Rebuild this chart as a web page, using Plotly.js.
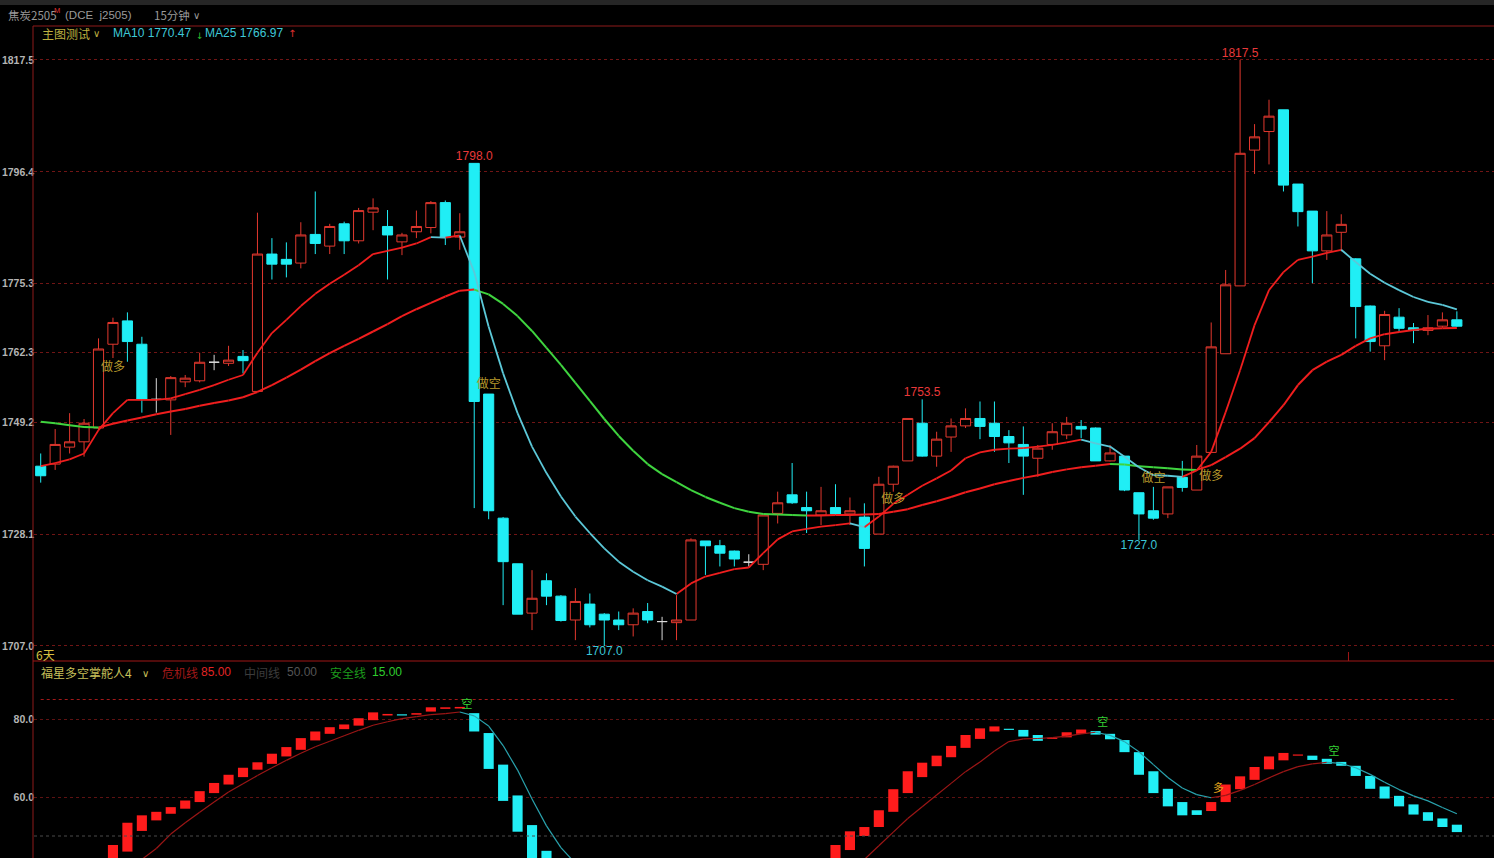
<!DOCTYPE html>
<html>
<head>
<meta charset="utf-8">
<script src="https://cdn.plot.ly/plotly-3.0.1.min.js"></script>
<style>
  html, body { margin: 0; padding: 0; background: #000; overflow: hidden; }
  #chart { width: 1494px; height: 858px; }
</style>
</head>
<body>
<div id="chart"></div>
<script>
// 焦炭2505 15分钟 K线 (99 根)
const opens = [
  1740.9,1741.3,1744.5,1745.5,1748.1,1763.9,1768.3,1763.9,1753.5,1753.4,
  1756.8,1757.0,1760.5,1760.3,1761.6,1755.0,1780.9,1779.9,1779.2,1784.6,
  1782.4,1786.6,1783.4,1788.8,1786.1,1783.2,1785.1,1785.9,1790.6,1784.1,
  1798.0,1754.5,1731.1,1722.5,1713.2,1719.3,1716.4,1711.9,1714.9,1713.0,
  1711.9,1711.0,1713.5,1711.6,1711.4,1711.9,1726.8,1725.9,1724.9,1722.8,
  1722.4,1732.0,1735.5,1733.1,1731.7,1733.1,1731.9,1731.3,1728.1,1737.5,
  1741.9,1749.0,1742.8,1746.4,1748.5,1749.9,1749.0,1746.5,1745.0,1742.4,
  1745.0,1746.8,1748.4,1748.1,1741.9,1742.8,1735.9,1732.5,1731.9,1738.8,
  1736.4,1743.5,1762.1,1774.9,1800.5,1804.0,1808.1,1794.1,1789.0,1781.5,
  1785.0,1780.0,1771.1,1763.6,1769.0,1767.0,1766.5,1767.3,1768.5
];
const highs = [
  1743.3,1747.9,1750.9,1749.8,1765.0,1768.9,1769.9,1765.3,1757.5,1757.9,
  1758.1,1762.3,1761.9,1763.6,1762.8,1788.7,1783.9,1783.1,1786.9,1792.7,
  1786.6,1787.0,1789.6,1791.4,1789.2,1784.9,1789.1,1790.9,1791.0,1788.6,
  1798.0,1754.5,1731.3,1722.5,1721.3,1720.7,1716.6,1717.9,1716.9,1713.2,
  1713.5,1714.1,1715.1,1712.5,1716.6,1727.3,1726.8,1727.0,1725.0,1724.3,
  1731.7,1736.1,1741.5,1736.1,1737.0,1737.5,1735.0,1733.9,1738.9,1741.0,
  1749.9,1753.5,1747.4,1749.9,1751.8,1753.1,1753.1,1747.7,1748.4,1744.9,
  1749.0,1750.2,1749.6,1748.2,1744.9,1742.8,1735.9,1737.0,1737.0,1741.9,
  1744.9,1768.0,1777.9,1817.5,1805.4,1810.0,1808.1,1794.1,1789.0,1789.0,
  1788.4,1780.1,1771.2,1770.2,1770.7,1767.9,1769.4,1769.9,1770.1
];
const lows = [
  1737.8,1740.2,1743.3,1742.7,1747.7,1761.3,1760.6,1751.0,1751.0,1746.8,
  1755.8,1756.7,1759.0,1759.8,1758.4,1755.0,1776.1,1776.5,1778.2,1780.9,
  1780.9,1780.9,1782.9,1785.4,1776.1,1780.7,1783.9,1784.8,1782.6,1781.7,
  1733.0,1730.9,1714.7,1713.0,1710.0,1714.7,1711.6,1708.1,1710.5,1707.0,
  1710.0,1708.8,1711.3,1708.1,1708.1,1711.9,1720.4,1722.0,1722.0,1722.0,
  1721.3,1730.1,1733.8,1728.3,1729.8,1731.7,1729.8,1722.0,1728.1,1736.1,
  1741.9,1742.7,1740.8,1743.6,1748.1,1746.0,1743.6,1741.5,1735.5,1738.9,
  1744.0,1746.0,1746.2,1741.9,1741.8,1736.2,1727.0,1730.8,1731.1,1736.1,
  1736.4,1743.5,1762.1,1774.9,1796.0,1797.8,1792.7,1786.1,1775.4,1779.8,
  1781.4,1765.0,1762.5,1760.9,1766.3,1764.1,1765.6,1767.0,1767.2
];
const closes = [
  1739.1,1745.0,1745.5,1749.0,1763.0,1768.0,1764.4,1753.5,1753.5,1757.6,
  1757.5,1760.5,1760.5,1760.9,1760.8,1780.9,1779.0,1779.0,1784.5,1782.9,
  1786.1,1783.4,1789.1,1789.6,1784.5,1784.5,1786.1,1790.6,1784.0,1785.1,
  1753.1,1732.5,1722.9,1713.0,1716.0,1716.4,1711.8,1715.4,1711.0,1711.9,
  1711.0,1713.2,1711.9,1711.6,1711.9,1727.0,1725.9,1724.5,1723.4,1722.8,
  1731.7,1734.0,1734.0,1732.5,1732.5,1731.9,1732.5,1725.4,1737.5,1740.9,
  1749.9,1742.8,1746.0,1748.5,1749.9,1748.4,1746.5,1745.3,1742.8,1744.3,
  1747.4,1749.0,1747.9,1741.9,1743.4,1736.4,1731.9,1731.1,1737.0,1736.9,
  1742.8,1763.4,1775.1,1799.9,1803.0,1806.9,1793.9,1788.9,1781.5,1784.5,
  1786.5,1771.0,1764.4,1769.5,1766.9,1766.5,1767.0,1768.5,1767.3
];

// 均线
const ma10 = [
  1740.9,1741.5,1742.2,1743.3,1747.7,1750.9,1753.4,1753.4,1753.4,1753.7,
  1754.5,1755.3,1756.2,1757.2,1758.1,1762.3,1766.0,1768.5,1771.1,1773.4,
  1775.3,1777.0,1778.8,1780.9,1781.5,1782.1,1782.9,1784.1,1784.0,1784.4,
  1777.5,1767.2,1758.4,1750.9,1744.6,1739.6,1735.2,1731.4,1728.3,1725.4,
  1722.9,1721.0,1719.4,1718.2,1716.8,1718.8,1720.1,1720.8,1721.5,1721.8,
  1724.5,1727.1,1728.6,1729.1,1729.5,1729.8,1730.1,1729.4,1731.4,1733.8,
  1735.5,1737.2,1738.6,1740.1,1742.4,1743.5,1744.0,1744.2,1744.3,1744.6,
  1744.9,1745.4,1745.9,1745.2,1744.6,1742.7,1740.7,1739.2,1739.1,1738.9,
  1740.1,1743.6,1751.1,1759.0,1767.5,1774.1,1777.5,1779.8,1780.4,1781.1,
  1781.7,1779.4,1777.2,1775.5,1774.1,1772.8,1771.9,1771.3,1770.47
];
const ma25 = [
  1749.3,1749.0,1748.6,1748.3,1748.2,1748.9,1749.5,1750.1,1750.7,1751.2,
  1751.7,1752.3,1752.8,1753.3,1753.9,1754.9,1756.2,1757.6,1759.1,1760.7,
  1762.2,1763.6,1764.9,1766.3,1767.7,1769.2,1770.5,1771.7,1772.9,1774.0,
  1774.2,1773.3,1771.5,1769.2,1766.4,1763.2,1760.0,1756.6,1753.2,1749.8,
  1746.6,1743.8,1741.3,1739.4,1737.9,1736.4,1735.1,1734.0,1733.0,1732.3,
  1731.9,1731.8,1731.7,1731.6,1731.6,1731.7,1731.7,1731.8,1731.9,1732.3,
  1732.8,1733.6,1734.3,1735.1,1736.0,1736.7,1737.5,1738.1,1738.7,1739.2,
  1739.8,1740.3,1740.7,1741.0,1741.3,1741.2,1740.9,1740.7,1740.5,1740.3,
  1740.2,1741.1,1742.6,1744.2,1746.2,1749.2,1752.4,1756.2,1759.0,1760.6,
  1761.9,1763.6,1765.0,1765.8,1766.2,1766.6,1766.8,1766.9,1766.97
];

// 主图价格刻度
const priceTicks = [1707.0, 1728.1, 1749.2, 1762.3, 1775.3, 1796.4, 1817.5];

// 主图信号
const signalIdx   = [5, 31, 59, 77, 81];
const signalPrice = [1759.4, 1756.2, 1734.5, 1738.5, 1738.9];
const signalText  = ['做多', '做空', '做多', '做空', '做多'];

// 高低点标注
const highMarks = [30, 61, 83];
const lowMarks  = [39, 76];

// 交易日分隔位置
const daySplit = [90.5];

// 副图：福星多空掌舵人4
const oscOpen = [
  null,null,null,null,null,43.5,46.0,51.3,54.0,55.7,
  57.0,58.7,61.0,63.2,65.1,67.0,68.5,70.4,72.1,74.5,
  76.2,77.4,78.3,79.7,80.9,81.2,81.1,81.9,82.6,82.7,
  81.5,76.4,68.3,60.4,52.8,46.2,null,null,null,null,
  null,null,null,null,null,null,null,null,null,null,
  null,null,null,null,null,43.0,46.4,50.0,52.3,56.2,
  61.0,65.1,67.9,70.2,72.6,74.9,76.8,77.5,77.2,75.9,
  74.9,75.3,76.2,76.9,76.2,74.6,71.5,66.6,62.1,58.7,
  56.6,56.4,58.7,62.0,64.4,67.1,69.4,70.6,70.6,69.8,
  69.0,68.0,65.4,62.7,60.3,58.1,56.1,54.5,52.9
];
const oscClose = [
  null,null,null,null,null,47.7,53.4,55.3,56.2,57.4,
  59.1,61.5,63.6,65.7,67.5,68.9,71.1,72.8,75.1,76.8,
  77.9,78.6,80.2,81.7,81.3,80.9,81.5,83.0,83.0,83.1,
  76.8,67.2,59.0,51.1,43.5,42.0,null,null,null,null,
  null,null,null,null,null,null,null,null,null,null,
  null,null,null,null,null,47.7,51.2,52.3,56.6,62.0,
  66.6,68.8,70.6,73.1,75.9,77.6,78.1,77.2,75.5,74.4,
  75.2,76.6,77.3,76.0,74.8,71.5,65.7,61.0,57.6,55.3,
  55.4,58.7,63.2,65.3,67.7,70.4,71.3,70.9,69.5,68.5,
  68.0,65.4,62.1,59.6,57.6,55.5,53.9,52.3,51.0
];
const oscSignal = [
  null,null,null,null,null,null,41.5,44.0,46.8,50.5,
  53.4,56.1,58.7,61.3,63.4,65.5,67.5,69.4,71.2,72.9,
  74.3,75.7,77.1,78.4,79.3,80.1,80.6,81.1,81.4,81.8,
  80.8,78.2,73.2,66.9,59.5,52.6,47.0,43.0,null,null,
  null,null,null,null,null,null,null,null,null,null,
  null,null,null,null,null,null,41.0,44.0,47.5,51.0,
  54.5,57.5,60.5,63.5,66.5,69.0,71.8,74.2,74.9,75.0,
  75.2,75.6,76.2,76.6,75.8,74.2,71.6,68.3,65.0,62.3,
  60.6,59.8,60.4,61.7,63.2,64.9,66.5,67.8,68.5,68.9,
  68.6,67.5,65.8,63.8,61.9,60.3,59.0,57.3,55.7
];
const oscTicks = [60, 80];
const dangerLine = 85, middleLine = 50, safeLine = 15;

const oscMarkIdx  = [29.5, 73.5, 89.5, 81.5];
const oscMarkVal  = [83.4, 78.8, 71.5, 62.0];
const oscMarkText = ['空', '空', '空', '多'];

// ---------- 构建图形 ----------
const idx = opens.map((_, i) => i);
const isDoji = idx.map(i => opens[i] === closes[i]);
const bodyIdx = idx.filter(i => !isDoji[i]);
const dojiIdx = idx.filter(i => isDoji[i]);
const sub = (arr, ids) => ids.map(i => arr[i]);

const UP = '#e2382e', DOWN = '#20eef5';
const CN = '"Noto Sans CJK SC", "Noto Sans", sans-serif';
const NUM = '"Liberation Sans", Arial, sans-serif';

// 按方向分段着色的折线
function colorSegments(ys, upColor, downColor, width, yaxis) {
  const up = { x: [], y: [] }, dn = { x: [], y: [] };
  for (let i = 0; i < ys.length - 1; i++) {
    if (ys[i] == null || ys[i + 1] == null) continue;
    const s = ys[i + 1] >= ys[i] ? up : dn;
    s.x.push(idx[i], idx[i + 1], null);
    s.y.push(ys[i], ys[i + 1], null);
  }
  return [[up, upColor], [dn, downColor]].map(([s, c]) => ({
    type: 'scatter', mode: 'lines', x: s.x, y: s.y, xaxis: 'x', yaxis: yaxis,
    line: { color: c, width: width }, connectgaps: false, hoverinfo: 'none'
  }));
}

const traces = [];

traces.push({
  type: 'candlestick', x: sub(idx, bodyIdx),
  open: sub(opens, bodyIdx), high: sub(highs, bodyIdx),
  low: sub(lows, bodyIdx), close: sub(closes, bodyIdx),
  xaxis: 'x', yaxis: 'y', whiskerwidth: 0, hoverinfo: 'none',
  increasing: { line: { color: UP, width: 1 }, fillcolor: '#000000' },
  decreasing: { line: { color: DOWN, width: 1 }, fillcolor: DOWN }
});
traces.push({
  type: 'candlestick', x: sub(idx, dojiIdx),
  open: sub(opens, dojiIdx), high: sub(highs, dojiIdx),
  low: sub(lows, dojiIdx), close: sub(closes, dojiIdx),
  xaxis: 'x', yaxis: 'y', whiskerwidth: 0, hoverinfo: 'none',
  increasing: { line: { color: '#d8d8d8', width: 1 }, fillcolor: '#d8d8d8' },
  decreasing: { line: { color: '#d8d8d8', width: 1 }, fillcolor: '#d8d8d8' }
});

traces.push(...colorSegments(ma25, '#f01e1e', '#3fd43f', 2, 'y'));
traces.push(...colorSegments(ma10, '#f01e1e', '#5cc8d8', 1.8, 'y'));

// 高低点数值
traces.push({
  type: 'scatter', mode: 'text', x: highMarks, y: highMarks.map(i => highs[i]),
  text: highMarks.map(i => highs[i].toFixed(1)), textposition: 'top center',
  textfont: { family: NUM, size: 12, color: '#e8393a' }, xaxis: 'x', yaxis: 'y', hoverinfo: 'none'
});
traces.push({
  type: 'scatter', mode: 'text', x: lowMarks, y: lowMarks.map(i => lows[i]),
  text: lowMarks.map(i => lows[i].toFixed(1)), textposition: 'bottom center',
  textfont: { family: NUM, size: 12, color: '#3cc6d6' }, xaxis: 'x', yaxis: 'y', hoverinfo: 'none'
});
traces.push({
  type: 'scatter', mode: 'text', x: signalIdx, y: signalPrice, text: signalText,
  textposition: 'middle center',
  textfont: { family: CN, size: 12, color: '#b89a2c' }, xaxis: 'x', yaxis: 'y', hoverinfo: 'none'
});

// 副图
traces.push({
  type: 'scatter', mode: 'lines', x: idx, y: idx.map(() => dangerLine),
  xaxis: 'x', yaxis: 'y2', line: { color: '#a3191a', width: 1, dash: 'dot' }, hoverinfo: 'none'
});
const oscDelta = idx.map(i => oscOpen[i] == null ? null : +(oscClose[i] - oscOpen[i]).toFixed(2));
traces.push({
  type: 'bar', x: idx, base: oscOpen, y: oscDelta, width: 0.7,
  marker: { color: oscDelta.map(d => d == null ? 'rgba(0,0,0,0)' : (d >= 0 ? '#ff1c1c' : '#22eef5')), line: { width: 0 } },
  xaxis: 'x', yaxis: 'y2', hoverinfo: 'none'
});
traces.push(...colorSegments(oscSignal, '#9c1616', '#2aa3ae', 1.2, 'y2'));
traces.push({
  type: 'scatter', mode: 'text', x: oscMarkIdx, y: oscMarkVal, text: oscMarkText,
  textposition: 'middle center',
  textfont: { family: CN, size: 11, color: oscMarkText.map(t => t === '空' ? '#34d234' : '#e3a21c') },
  xaxis: 'x', yaxis: 'y2', hoverinfo: 'none'
});

// ---------- 版面 ----------
const W = 1494, H = 858, ML = 34, MT = 26;
const PW = W - ML, PH = H - MT;
const px = v => (v - ML) / PW;
const py = v => (H - v) / PH;
const splitY = py(661);

function label(text, x, y, color, size, family, extra) {
  return Object.assign({
    text: text, xref: 'paper', yref: 'paper', x: px(x), y: py(y),
    xanchor: 'left', yanchor: 'middle', showarrow: false,
    font: { family: family || CN, size: size || 12, color: color }
  }, extra || {});
}

const annotations = [
  label('焦炭2505', 6, 15, '#9a9a9a', 11.5),
  label('M', 52, 10, '#e03030', 7.5, NUM),
  label('(DCE&nbsp;&nbsp;j2505)', 63, 15, '#9a9a9a', 11.5, NUM),
  label('15分钟', 152, 15, '#9a9a9a', 11.5),
  label('∨', 191, 15, '#9a9a9a', 10, '"DejaVu Sans"'),
  label('主图测试', 40, 33, '#bdb040', 12),
  label('∨', 91, 34, '#bdb040', 10, '"DejaVu Sans"'),
  label('MA10 ' + ma10[ma10.length - 1].toFixed(2), 111, 33, '#3ec8d8', 12, NUM),
  label('↓', 194, 36, '#2fbf2f', 9, '"DejaVu Sans"'),
  label('MA25 ' + ma25[ma25.length - 1].toFixed(2), 203, 33, '#3ec8d8', 12, NUM),
  label('↑', 286, 33, '#e03030', 10, '"DejaVu Sans"'),
  label('6天', 34, 654, '#d8c040', 12),
  label('福星多空掌舵人4', 39, 672, '#c8c05a', 12),
  label('∨', 140, 673, '#c8c05a', 10, '"DejaVu Sans"'),
  label('危机线', 160, 672, '#a01818', 12),
  label(dangerLine.toFixed(2), 199, 672, '#e02424', 12, NUM),
  label('中间线', 242, 672, '#3c3c3c', 12),
  label(middleLine.toFixed(2), 285, 672, '#555555', 12, NUM),
  label('安全线', 328, 672, '#1c9a1c', 12),
  label(safeLine.toFixed(2), 370, 672, '#2ecc2e', 12, NUM)
];

const frame = '#8e1a1a';
const shapes = [
  { type: 'rect', xref: 'paper', yref: 'paper', x0: px(0), x1: 1, y0: py(5), y1: py(0),
    fillcolor: '#262626', line: { width: 0 }, layer: 'below' },
  { type: 'line', xref: 'paper', yref: 'paper', x0: px(33), x1: 1, y0: 1, y1: 1,
    line: { color: frame, width: 1 } },
  { type: 'line', xref: 'paper', yref: 'paper', x0: px(33), x1: px(33), y0: 0, y1: 1,
    line: { color: frame, width: 1 } },
  { type: 'line', xref: 'paper', yref: 'paper', x0: px(33), x1: 1, y0: splitY, y1: splitY,
    line: { color: '#a01616', width: 1 } },
  { type: 'line', xref: 'paper', yref: 'y2', x0: 0, x1: 1, y0: middleLine, y1: middleLine,
    line: { color: '#4a4a4a', width: 1, dash: 'dot' } }
].concat(daySplit.map(d => ({
  type: 'line', xref: 'x', yref: 'paper', x0: d, x1: d, y0: splitY, y1: py(652),
  line: { color: '#a01616', width: 1 }
})));

const axisFont = { family: NUM, size: 10.5, color: '#b4b4b4', weight: 'bold' };

const layout = {
  width: W, height: H,
  paper_bgcolor: '#000000', plot_bgcolor: '#000000',
  margin: { l: ML, r: 0, t: MT, b: 0, pad: 0 },
  showlegend: false,
  boxgap: 0, boxgroupgap: 0.3,
  xaxis: {
    range: [-0.464, 100.57], showgrid: false, zeroline: false, showticklabels: false,
    showline: false, ticks: '', rangeslider: { visible: false }, fixedrange: true, anchor: 'y2'
  },
  yaxis: {
    domain: [splitY, 1], range: [1704.17, 1823.9],
    tickmode: 'array', tickvals: priceTicks, ticktext: priceTicks.map(v => v.toFixed(1)),
    showgrid: true, gridcolor: '#701515', griddash: 'dot', gridwidth: 1,
    zeroline: false, showline: false, ticks: '', ticklabelstandoff: -1,
    tickfont: axisFont, fixedrange: true
  },
  yaxis2: {
    domain: [0, splitY], range: [44.36, 94.87],
    tickmode: 'array', tickvals: oscTicks, ticktext: oscTicks.map(v => v.toFixed(1)),
    showgrid: true, gridcolor: '#5e1212', griddash: 'dot', gridwidth: 1,
    zeroline: false, showline: false, ticks: '', ticklabelstandoff: -1,
    tickfont: axisFont, fixedrange: true
  },
  annotations: annotations,
  shapes: shapes
};

Plotly.newPlot('chart', traces, layout, { staticPlot: true, displayModeBar: false });
</script>
</body>
</html>
